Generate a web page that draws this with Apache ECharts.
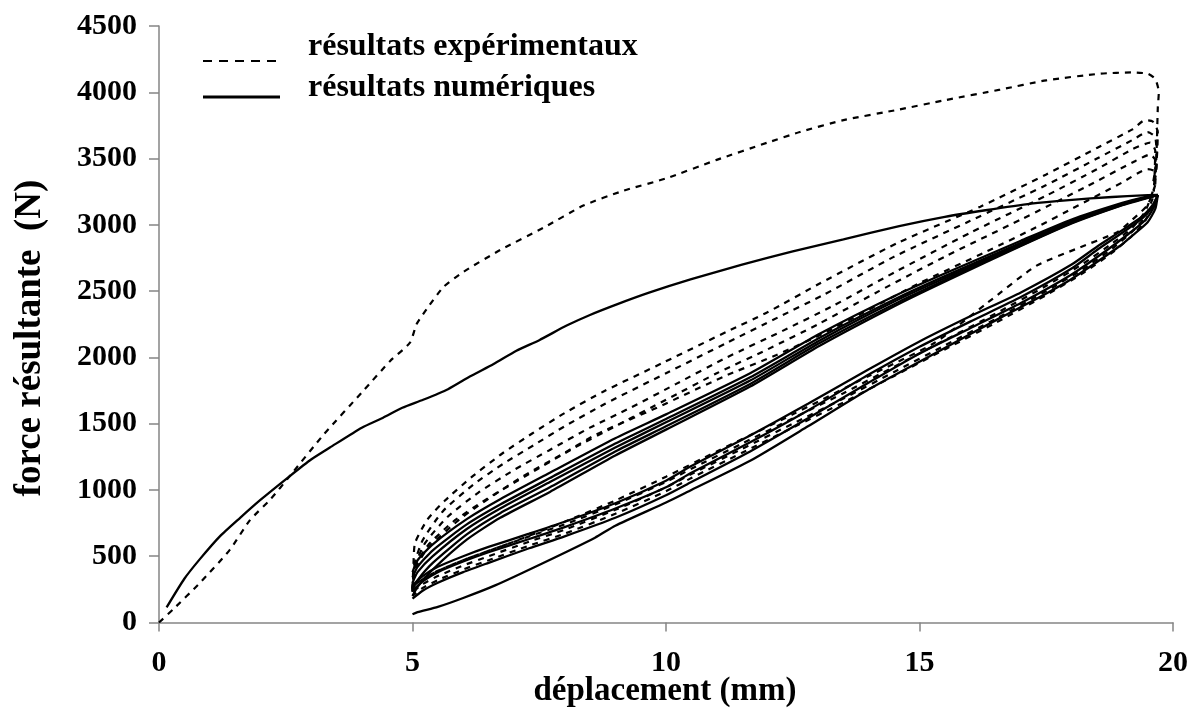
<!DOCTYPE html>
<html>
<head>
<meta charset="utf-8">
<title>force résultante / déplacement</title>
<script src="https://cdn.jsdelivr.net/npm/echarts@6/dist/echarts.min.js"></script>
<style>
  html, body { margin: 0; padding: 0; background: #ffffff; }
  #chart { width: 1187px; height: 711px; }
</style>
</head>
<body>
<div id="chart"></div>
<script>
// Axis ticks
const xTicks = [0, 5, 10, 15, 20];
const yTicks = [0, 500, 1000, 1500, 2000, 2500, 3000, 3500, 4000, 4500];

// Texts
const labelExp = 'résultats expérimentaux';
const labelNum = 'résultats numériques';
const xTitle = 'déplacement (mm)';
const yTitle = 'force résultante  (N)';

// ---- Experimental curves (displacement mm, force N) ----
const expVirgin = [[0,0],[0.28,100],[0.81,300],[1.4,550],[1.79,770],[2.2,930],[2.58,1105],[3.24,1414],[4.03,1748],[4.56,1973],[4.95,2111],[5.08,2250],[5.28,2365],[5.61,2531],[6,2644],[6.73,2810],[7.58,2977],[8.37,3145],[9.16,3257],[10,3350],[11,3490],[12,3620],[12.64,3700],[13.5,3790],[14.6,3870],[15.5,3940],[16.59,4020],[17.5,4090],[18.56,4140],[19.2,4150],[19.5,4140],[19.65,4100],[19.72,4000],[19.7,3880],[19.68,3600],[19.65,3300]];

const expReload1 = [[5,260],[5.02,450],[5.05,600],[5.3,780],[5.64,920],[6.17,1098],[6.77,1275],[7.36,1426],[8,1580],[8.76,1741],[9.98,1967],[11.2,2194],[12,2340],[13.04,2559],[14.55,2860],[16.2,3137],[17.5,3380],[18.5,3580],[19.2,3720],[19.45,3790],[19.6,3780],[19.7,3700],[19.68,3500],[19.6,3300]];
const expReload2 = [[5,250],[5.03,430],[5.2,620],[5.6,840],[6.2,1040],[6.8,1200],[7.4,1340],[8,1480],[8.8,1650],[10,1880],[11.2,2110],[12.2,2300],[13.1,2470],[14.5,2760],[16,3030],[17.5,3300],[18.5,3500],[19.2,3640],[19.5,3700],[19.65,3660],[19.68,3450],[19.62,3280]];
const expReload3 = [[5,240],[5.04,420],[5.25,600],[5.7,800],[6.3,980],[7,1150],[7.7,1300],[8.5,1470],[9.3,1620],[10.2,1800],[11.2,2000],[12.3,2200],[13.3,2390],[14.5,2640],[16,2940],[17.5,3220],[18.5,3420],[19.2,3570],[19.55,3620],[19.65,3560],[19.63,3300]];
const expReload4 = [[5,235],[5.04,410],[5.3,580],[5.8,760],[6.5,940],[7.3,1120],[8.2,1320],[9,1480],[10,1680],[11,1880],[12,2060],[13,2250],[14.2,2500],[15.5,2760],[17,3040],[18.3,3290],[19.2,3470],[19.55,3530],[19.66,3480],[19.62,3270]];
const expReload5 = [[5,230],[5.05,400],[5.3,560],[6,800],[7.08,1080],[8,1280],[8.63,1420],[9.82,1620],[11.13,1854],[12.18,2018],[13.1,2180],[14,2360],[15,2560],[16.33,2800],[17.4,3000],[18,3120],[19,3320],[19.5,3420],[19.65,3400],[19.62,3250]];

const expUnload1 = [[19.65,3300],[19.5,3150],[19.2,3040],[18.9,2945],[18.1,2820],[17.3,2690],[16.3,2400],[15.3,2110],[14,1860],[12.5,1570],[11,1290],[10,1100],[9,920],[8,760],[7,610],[6,470],[5.4,370],[5.1,300],[5,260]];
const expUnload2 = [[19.6,3250],[19.45,3100],[19.2,2980],[18.8,2860],[18.2,2700],[17.5,2540],[16.5,2330],[15.5,2130],[14.5,1930],[13.5,1730],[12.5,1540],[11.5,1350],[10.5,1160],[10,1060],[9,890],[8,740],[7.3,650],[6.5,540],[6,470],[5.5,390],[5.2,330],[5,270]];
const expUnload3 = [[19.6,3200],[19.45,3060],[19.2,2950],[18.8,2820],[18.2,2660],[17.5,2500],[16.5,2290],[15.5,2090],[14.5,1890],[13.5,1690],[12.5,1500],[11.5,1310],[10.5,1120],[10,1020],[9,850],[8,700],[7.3,610],[6.5,500],[6,430],[5.5,350],[5.2,290],[5,230]];
const expUnload4 = [[19.6,3150],[19.45,3030],[19.2,2920],[18.8,2790],[18.2,2630],[17.5,2470],[16.5,2260],[15.5,2060],[14.5,1860],[13.5,1660],[12.5,1470],[11.5,1280],[10.5,1090],[10,990],[9,820],[8,670],[7.3,580],[6.5,470],[6,400],[5.5,320],[5.2,260],[5,200]];

// ---- Numerical curves ----
const numVirgin = [[0.15,114],[0.5,330],[0.81,480],[1.2,650],[1.6,790],[2,925],[2.58,1105],[3,1230],[3.37,1320],[4,1470],[4.42,1545],[4.8,1620],[5.21,1680],[5.7,1760],[6.13,1855],[6.6,1950],[7.05,2050],[7.5,2130],[8.04,2240],[8.5,2320],[9.03,2400],[9.68,2490],[10.5,2590],[11.5,2700],[12.5,2800],[13.5,2890],[14.6,2990],[15.5,3060],[16.3,3110],[17.2,3160],[17.95,3187],[18.8,3210],[19.4,3222],[19.7,3225]];

const numReload1 = [[5,380],[5.1,470],[5.4,590],[6.07,780],[6.73,930],[7.71,1130],[9,1390],[10,1570],[11.66,1880],[13.04,2180],[14.6,2480],[15.6,2650],[17,2880],[18,3040],[19,3165],[19.4,3205],[19.7,3225]];
const numReload2 = [[5,340],[5.1,420],[5.4,545],[6.07,740],[6.73,890],[7.71,1090],[9,1350],[10,1535],[11.66,1850],[13.04,2150],[14.6,2455],[15.6,2630],[17,2865],[18,3030],[19,3160],[19.4,3200],[19.7,3225]];
const numReload3 = [[5,300],[5.1,380],[5.4,500],[6.07,705],[6.73,860],[7.71,1060],[9,1320],[10,1510],[11.66,1825],[13.04,2130],[14.6,2440],[15.6,2615],[17,2855],[18,3020],[19,3155],[19.4,3198],[19.7,3225]];
const numReload4 = [[5,250],[5.1,320],[5.4,450],[6.07,665],[6.73,825],[7.71,1020],[9,1290],[10,1480],[11.66,1800],[13.04,2110],[14.6,2420],[15.6,2600],[17,2845],[18,3015],[19,3150],[19.4,3195],[19.7,3225]];
const numReload5 = [[5,200],[5.1,270],[5.4,400],[6.07,625],[6.73,790],[7.71,985],[9,1260],[10,1455],[11.66,1780],[13.04,2090],[14.6,2405],[15.6,2590],[17,2840],[18,3010],[19,3148],[19.4,3192],[19.7,3225]];

const numUnload1 = [[19.7,3225],[19.65,3120],[19.5,3020],[19.2,2920],[18.95,2840],[18.5,2720],[17.95,2580],[17.3,2440],[16.6,2300],[15.3,2030],[14,1760],[12.8,1480],[11.66,1220],[10.5,1000],[10,905],[9,730],[8.6,640],[7.61,455],[6.63,280],[6,185],[5.5,118],[5.1,78],[5,62]];
const numUnload2 = [[19.7,3225],[19.62,3130],[19.45,3035],[19.1,2925],[18.7,2810],[18,2625],[17,2410],[16,2220],[15,2030],[14,1810],[12.8,1540],[11.66,1290],[10.5,1060],[10,960],[9,790],[8,650],[7.3,560],[6.5,450],[6,380],[5.5,300],[5.2,240],[5,180]];
const numUnload3 = [[19.7,3225],[19.6,3140],[19.4,3050],[19,2940],[18.5,2810],[18,2670],[17,2455],[16,2270],[15,2080],[14,1870],[12.8,1600],[11.66,1360],[10.5,1130],[10,1020],[9,860],[8,720],[7.3,630],[6.5,530],[6,460],[5.5,380],[5.2,310],[5,240]];
const numUnload4 = [[19.7,3225],[19.6,3150],[19.4,3065],[19,2960],[18.5,2835],[18,2700],[17,2490],[16,2310],[15,2120],[14,1910],[12.8,1650],[11.66,1410],[10.5,1180],[10,1070],[9,900],[8,760],[7.3,670],[6.5,570],[6,500],[5.5,420],[5.2,350],[5,280]];

const expCurves = [expVirgin, expReload1, expReload2, expReload3, expReload4, expReload5, expUnload1, expUnload2, expUnload3, expUnload4];
const numCurves = [numVirgin, numReload1, numReload2, numReload3, numReload4, numReload5, numUnload1, numUnload2, numUnload3, numUnload4];

const FONT = '"Liberation Serif", "DejaVu Serif", serif';
const dashedStyle = { color: '#000', width: 2.2, type: [6, 6] };
const solidStyle = { color: '#000', width: 2.3, type: 'solid' };

function curveSeries(data, name, style) {
  return {
    type: 'line', name: name, data: data,
    showSymbol: false, symbol: 'none', smooth: 0.2,
    lineStyle: style, silent: true, z: 2
  };
}

const series = [];
numCurves.forEach(c => series.push(curveSeries(c, labelNum, solidStyle)));
expCurves.forEach(c => series.push(curveSeries(c, labelExp, dashedStyle)));

const axisLabelStyle = { color: '#000', fontFamily: FONT, fontWeight: 'bold', fontSize: 30 };

const chart = echarts.init(document.getElementById('chart'), null, { renderer: 'canvas' });
chart.setOption({
  animation: false,
  backgroundColor: '#fff',
  grid: { left: 159, right: 14, top: 26, bottom: 88.5, containLabel: false, outerBoundsMode: 'none' },
  xAxis: {
    type: 'value', min: 0, max: 20, interval: 5,
    axisLine: { show: true, onZero: false, lineStyle: { color: '#858585', width: 1.5 } },
    axisTick: { show: true, inside: false, length: 9, lineStyle: { color: '#858585', width: 1.5 } },
    splitLine: { show: false },
    axisLabel: Object.assign({ margin: 26, formatter: v => xTicks.includes(v) ? String(v) : '' }, axisLabelStyle)
  },
  yAxis: {
    type: 'value', min: 0, max: 4500, interval: 500,
    axisLine: { show: true, onZero: false, lineStyle: { color: '#858585', width: 1.5 } },
    axisTick: { show: true, inside: false, length: 10, lineStyle: { color: '#858585', width: 1.5 } },
    splitLine: { show: false },
    axisLabel: Object.assign({ margin: 22, formatter: v => yTicks.includes(v) ? String(v) : '' }, axisLabelStyle)
  },
  graphic: [
    { type: 'text', x: 665, y: 691,
      style: { text: xTitle, fill: '#000', font: 'bold 33px ' + FONT, textAlign: 'center', textVerticalAlign: 'middle' } },
    { type: 'text', x: 30, y: 338, rotation: Math.PI / 2,
      style: { text: yTitle, fill: '#000', font: 'bold 37px ' + FONT, textAlign: 'center', textVerticalAlign: 'middle' } },
    { type: 'line', shape: { x1: 203, y1: 61, x2: 282, y2: 61 }, style: { stroke: '#000', lineWidth: 2.2, lineDash: [9, 7] } },
    { type: 'line', shape: { x1: 203, y1: 97, x2: 280, y2: 97 }, style: { stroke: '#000', lineWidth: 3 } },
    { type: 'text', left: 308, top: 31, style: { text: labelExp, fill: '#000', font: 'bold 32px ' + FONT } },
    { type: 'text', left: 308, top: 72, style: { text: labelNum, fill: '#000', font: 'bold 32px ' + FONT } }
  ],
  series: series
});
</script>
</body>
</html>
